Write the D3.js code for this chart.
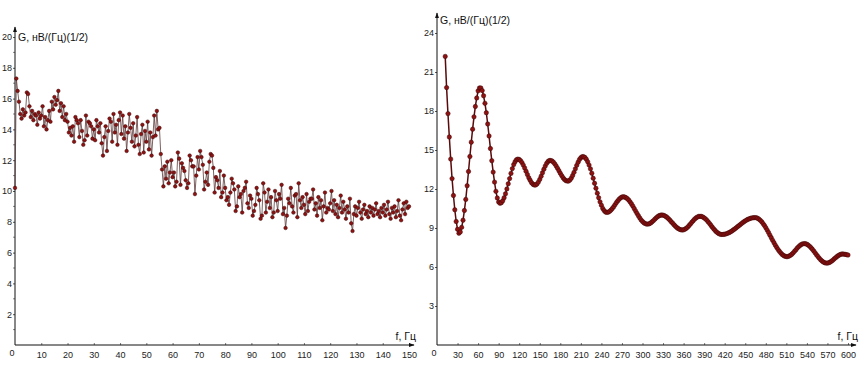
<!DOCTYPE html>
<html>
<head>
<meta charset="UTF-8">
<title>G(f)</title>
<script src="https://cdn.jsdelivr.net/npm/d3@7"></script>
<style>
  body { margin: 0; background: #fff; }
  svg { display: block; font-family: "Liberation Sans", Arial, sans-serif; }
  .tick text { font-size: 9px; fill: #222; }
</style>
</head>
<body>
<div id="chart"></div>
<script>
// left panel: 0..150 Hz, step 0.5 Hz
var leftFreq = d3.range(0, 150.001, 0.5);
var leftVals = [
  10.2, 17.3, 16.5, 15.8, 15.0, 14.7, 15.3, 14.9, 15.1, 16.4, 16.3, 15.5, 14.8, 15.2, 14.6, 15.0, 14.9, 14.3, 15.1, 14.7,
  14.9, 15.5, 14.2, 14.8, 14.0, 14.6, 15.2, 14.5, 15.8, 15.3, 16.1, 15.6, 15.9, 16.5, 15.2, 15.7, 14.8, 15.5, 14.6, 15.0,
  14.5, 13.8, 14.1, 13.6, 14.2, 13.2, 14.8, 14.6, 14.4, 13.5, 14.6, 13.9, 13.0, 13.3, 14.9, 13.6, 14.5, 14.4, 14.2, 13.4,
  14.0, 13.3, 14.6, 14.2, 13.8, 14.4, 13.1, 12.3, 13.5, 14.2, 12.6, 13.9, 14.7, 14.5, 13.2, 15.0, 13.8, 14.3, 13.0, 14.6,
  15.1, 13.7, 14.9, 13.4, 14.2, 12.6, 13.8, 15.0, 14.1, 13.2, 14.4, 12.9, 13.6, 14.8, 13.0, 12.4, 13.7, 14.3, 12.5, 13.9,
  13.2, 14.5, 12.7, 13.8, 12.3, 13.5, 14.9, 13.6, 15.2, 14.0,
  14.1, 12.4, 11.4, 10.3, 11.6, 10.8, 11.9, 10.5, 11.2, 12.0,
  10.9, 11.2, 10.3, 10.6, 12.5, 12.1, 10.4, 11.8, 11.5, 11.3, 10.7, 10.2, 10.5, 12.3, 12.0, 11.6, 11.6, 9.8, 11.0, 12.2,
  11.4, 12.6, 12.2, 11.7, 10.1, 10.6, 11.2, 10.4, 11.9, 12.4, 12.3, 11.5, 9.9, 10.9, 10.7, 10.2, 11.3, 9.6, 9.9, 11.0,
  10.2, 9.4, 9.6, 9.1, 9.9, 10.8, 10.5, 10.1, 8.7, 9.0, 10.3, 9.6, 9.8, 8.6, 10.0, 10.2, 10.6, 9.2, 8.9, 9.7,
  9.5, 8.4, 8.7, 9.1, 10.2, 9.8, 9.4, 8.2, 8.4, 10.5, 9.9, 8.6, 9.3, 10.1, 8.9, 9.6, 8.3, 8.6, 10.0, 9.4,
  8.7, 9.8, 9.5, 10.4, 8.5, 8.9, 7.6, 8.4, 9.5, 9.2, 10.2, 9.0, 8.6, 9.7, 9.8, 8.3, 10.5, 9.4, 8.9, 9.6,
  9.1, 8.5, 9.8, 8.7, 9.3, 9.5, 9.5, 10.1, 8.8, 9.2, 8.4, 9.6, 8.9, 9.4, 8.1, 9.0, 9.9, 8.6, 8.9, 8.8,
  9.2, 10.0, 8.7, 9.4, 8.5, 9.1, 8.3, 8.9, 9.7, 8.6, 9.3, 8.8, 8.2, 9.0, 8.6, 9.5, 7.9, 7.4, 8.5, 9.0,
  8.4, 8.9, 9.3, 8.6, 8.2, 8.8, 9.1, 8.5, 8.7, 8.3, 9.0, 8.6, 8.9, 8.4, 8.8, 9.2, 8.5, 8.7, 8.3, 8.9,
  8.6, 9.1, 8.4, 8.8, 9.3, 8.5, 8.2, 8.9, 8.6, 9.0, 8.3, 8.7, 9.4, 8.4, 8.1, 8.8, 9.2, 8.5, 9.3, 8.9,
  9.0
];
var leftYTicks = [2, 4, 6, 8, 10, 12, 14, 16, 18, 20];
var leftXTicks = [10, 20, 30, 40, 50, 60, 70, 80, 90, 100, 110, 120, 130, 140, 150];

// right panel: 12..600 Hz, step 2 Hz
var rightFreq = d3.range(12, 600.001, 2);
var rightVals = [
  22.2, 19.8, 17.8, 16.0, 14.3, 12.8, 11.5, 10.4, 9.5, 8.9, 8.6,
  8.7, 9.05, 9.6, 10.35, 11.2, 12.25, 13.35, 14.5, 15.6, 16.6, 17.55, 18.35, 19.0, 19.55, 19.77,
  19.77, 19.57, 19.17, 18.59, 17.87, 17.0, 16.08, 15.11, 14.18, 13.3, 12.53, 11.82, 11.31, 11.0, 10.9,
  10.95, 11.1, 11.33, 11.63, 12.0, 12.4, 12.8, 13.2, 13.57, 13.88, 14.1, 14.25, 14.3,
  14.27, 14.18, 14.03, 13.84, 13.61, 13.36, 13.11, 12.87, 12.67, 12.49, 12.37, 12.31,
  12.31, 12.39, 12.53, 12.74, 12.98, 13.25, 13.52, 13.76, 13.97, 14.11, 14.19,
  14.19, 14.15, 14.06, 13.93, 13.77, 13.59, 13.4, 13.21, 13.03, 12.87, 12.74, 12.65, 12.61,
  12.61, 12.69, 12.83, 13.04, 13.28, 13.55, 13.82, 14.06, 14.27, 14.41, 14.49,
  14.49, 14.42, 14.29, 14.09, 13.84, 13.55, 13.21, 12.83, 12.44, 12.06, 11.68, 11.33, 11.01, 10.75, 10.5, 10.34, 10.23, 10.2,
  10.22, 10.28, 10.38, 10.5, 10.64, 10.8, 10.96, 11.1, 11.22, 11.32, 11.38, 11.4,
  11.38, 11.33, 11.25, 11.14, 11.0, 10.85, 10.68, 10.49, 10.3, 10.12, 9.94, 9.77, 9.62, 9.5, 9.4, 9.34, 9.3,
  9.3, 9.33, 9.39, 9.48, 9.57, 9.68, 9.78, 9.87, 9.94, 9.98, 10.0,
  9.99, 9.95, 9.89, 9.81, 9.71, 9.6, 9.48, 9.37, 9.25, 9.14, 9.04, 8.96, 8.9, 8.86, 8.85,
  8.86, 8.91, 8.98, 9.07, 9.19, 9.31, 9.44, 9.56, 9.68, 9.77, 9.84, 9.89, 9.9,
  9.89, 9.85, 9.78, 9.7, 9.59, 9.47, 9.34, 9.2, 9.06, 8.93, 8.81, 8.7, 8.62, 8.55, 8.51, 8.5,
  8.51, 8.52, 8.55, 8.59, 8.63, 8.69, 8.75, 8.83, 8.9, 8.98, 9.07, 9.15, 9.23, 9.32, 9.4, 9.48,
  9.55, 9.61, 9.67, 9.71, 9.75, 9.78, 9.79, 9.8,
  9.79, 9.75, 9.68, 9.59, 9.48, 9.34, 9.19, 9.02, 8.84, 8.65, 8.45, 8.25, 8.05, 7.86, 7.67, 7.5,
  7.34, 7.2, 7.07, 6.96, 6.88, 6.83, 6.8,
  6.8, 6.84, 6.9, 6.98, 7.09, 7.21, 7.33, 7.46, 7.57, 7.66, 7.74, 7.78, 7.8,
  7.79, 7.75, 7.68, 7.59, 7.49, 7.36, 7.23, 7.09, 6.94, 6.81, 6.68, 6.56, 6.46, 6.38, 6.33, 6.3,
  6.3, 6.33, 6.38, 6.45, 6.53, 6.63, 6.72, 6.81, 6.88, 6.94, 6.99, 7.0,
  6.99, 6.97, 6.95, 6.92
];
var rightYTicks = [3, 6, 9, 12, 15, 18, 21, 24];
var rightXTicks = [30, 60, 90, 120, 150, 180, 210, 240, 270, 300, 330, 360, 390, 420, 450, 480, 510, 540, 570, 600];

var yTitle = "G, нВ/(Гц)(1/2)";
var xTitle = "f, Гц";
var red = "#8e1212";

var W = 861, H = 367;
var svg = d3.select("#chart").append("svg")
  .attr("width", W)
  .attr("height", H);

svg.append("defs").append("marker")
  .attr("id", "arrow")
  .attr("viewBox", "0 0 10 10")
  .attr("refX", 9).attr("refY", 5)
  .attr("markerWidth", 6).attr("markerHeight", 6)
  .attr("orient", "auto")
  .append("path")
  .attr("d", "M0,1.5 L10,5 L0,8.5 Z")
  .attr("fill", "#111");

function panel(opt) {
  var x = d3.scaleLinear().domain(opt.xDomain).range(opt.xRange);
  var y = d3.scaleLinear().domain(opt.yDomain).range(opt.yRange);
  var g = svg.append("g");
  var x0 = x(0), y0 = y(0);

  // x ticks
  g.append("g")
    .attr("transform", "translate(0," + y0 + ")")
    .call(d3.axisBottom(x).tickValues(opt.xTicks).tickSize(2).tickPadding(5).tickFormat(d3.format("d")))
    .call(function(a) { a.select(".domain").remove(); })
    .call(function(a) { a.selectAll("line").attr("stroke", "#777").attr("y1", -2).attr("y2", 0); });

  // y ticks
  g.append("g")
    .attr("transform", "translate(" + x0 + ",0)")
    .call(d3.axisLeft(y).tickValues(opt.yTicks).tickSize(2).tickPadding(1).tickFormat(d3.format("d")))
    .call(function(a) { a.select(".domain").remove(); })
    .call(function(a) { a.selectAll("line").attr("stroke", "#555"); });

  if (opt.yMinor) {
    g.append("g").selectAll("line").data(opt.yMinor).join("line")
      .attr("x1", x0 - 2).attr("x2", x0)
      .attr("y1", function(d) { return y(d); }).attr("y2", function(d) { return y(d); })
      .attr("stroke", "#888");
  }

  // origin label
  g.append("text")
    .attr("x", x0 - 3).attr("y", y0 + 11)
    .attr("text-anchor", "middle")
    .style("font-size", "9px").attr("fill", "#222")
    .text("0");

  // axis lines with arrows
  g.append("line")
    .attr("x1", x0).attr("y1", y0).attr("x2", opt.xEnd).attr("y2", y0)
    .attr("stroke", "#111").attr("stroke-width", 1)
    .attr("marker-end", "url(#arrow)");
  g.append("line")
    .attr("x1", x0).attr("y1", y0).attr("x2", x0).attr("y2", opt.yEnd)
    .attr("stroke", "#111").attr("stroke-width", 1)
    .attr("marker-end", "url(#arrow)");

  // titles
  g.append("text")
    .attr("x", x0 + 3).attr("y", opt.yTitleY)
    .style("font-size", "10.5px").attr("fill", "#111")
    .text(yTitle);
  g.append("text")
    .attr("x", opt.xEnd + 2).attr("y", y0 - 5)
    .attr("text-anchor", "end")
    .style("font-size", "10.5px").attr("fill", "#111")
    .text(xTitle);

  var pts = opt.freq.map(function(f, i) { return [f, opt.vals[i]]; });

  g.append("path")
    .datum(pts)
    .attr("fill", "none")
    .attr("stroke", opt.lineColor)
    .attr("stroke-width", opt.lineWidth)
    .attr("d", d3.line().x(function(d) { return x(d[0]); }).y(function(d) { return y(d[1]); }));

  g.append("g").selectAll("circle").data(pts).join("circle")
    .attr("cx", function(d) { return x(d[0]); })
    .attr("cy", function(d) { return y(d[1]); })
    .attr("r", opt.r)
    .attr("fill", red)
    .attr("stroke", "#3a0606")
    .attr("stroke-width", 0.5);
}

panel({
  freq: leftFreq, vals: leftVals,
  xDomain: [0, 150], xRange: [15, 409],
  yDomain: [0, 20], yRange: [345, 37],
  xTicks: leftXTicks, yTicks: leftYTicks,
  yMinor: [1, 3, 5, 7, 9, 11, 13, 15, 17, 19],
  xEnd: 414, yEnd: 27, yTitleY: 41,
  lineColor: "#5e3a3a", lineWidth: 0.8, r: 1.8
});

panel({
  freq: rightFreq, vals: rightVals,
  xDomain: [0, 600], xRange: [437, 848],
  yDomain: [0, 24], yRange: [345, 33],
  xTicks: rightXTicks, yTicks: rightYTicks,
  xEnd: 856, yEnd: 13, yTitleY: 24,
  lineColor: "#5a0a0a", lineWidth: 1.5, r: 2.2
});
</script>
</body>
</html>
